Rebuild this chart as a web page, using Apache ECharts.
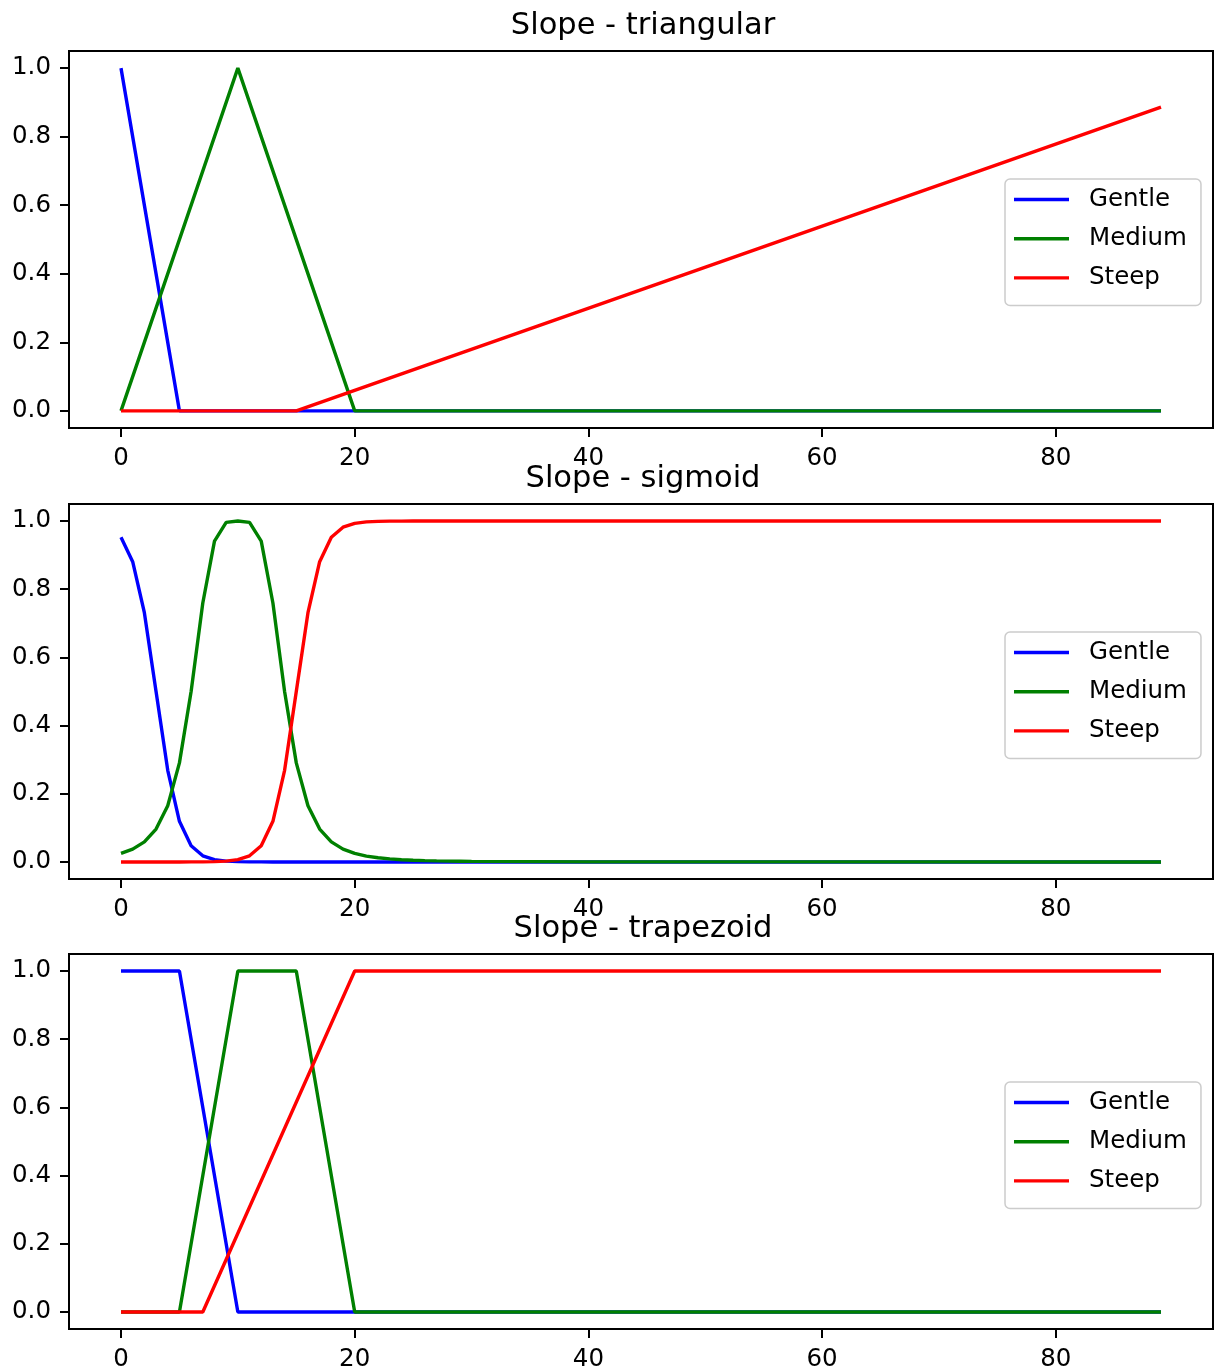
<!DOCTYPE html>
<html>
<head>
<meta charset="utf-8">
<script src="https://cdn.jsdelivr.net/npm/echarts@6/dist/echarts.min.js"></script>
<style>
html,body{margin:0;padding:0;background:#fff;}
#chart{width:1217px;height:1372px;}
</style>
</head>
<body>
<div id="chart"></div>
<script>
// ---- Data ----
var titles = ['Slope - triangular', 'Slope - sigmoid', 'Slope - trapezoid'];
var seriesNames = ['Gentle', 'Medium', 'Steep'];
var xTicks = [0, 20, 40, 60, 80];
var yTicks = [0, 0.2, 0.4, 0.6, 0.8, 1.0];

// Triangular panel (breakpoints)
var triGentleX = [0, 5, 89];
var triGentleY = [1, 0, 0];
var triMediumX = [0, 10, 20, 89];
var triMediumY = [0, 1, 0, 0];
var triSteepX = [0, 15, 89];
var triSteepY = [0, 0, 0.886];

// Sigmoid panel (sampled)
var sigX = [0,1,2,3,4,5,6,7,8,9,10,11,12,13,14,15,16,17,18,19,20,21,22,23,24,25,26,27,28,29,30,40,60,89];
var sigGentle = [0.9526,0.8808,0.7311,0.5,0.2689,0.1192,0.0474,0.018,0.0067,0.0025,0.0009,0.0003,0.0001,0,0,0,0,0,0,0,0,0,0,0,0,0,0,0,0,0,0,0,0,0];
var sigMedium = [0.025,0.0376,0.0588,0.0964,0.1649,0.2906,0.5,0.7596,0.9412,0.9961,1,0.9961,0.9412,0.7596,0.5,0.2906,0.1649,0.0964,0.0588,0.0376,0.025,0.0172,0.0122,0.0089,0.0066,0.005,0.0039,0.0031,0.0024,0.002,0.0016,0.0003,0.0001,0];
var sigSteep = [0,0,0,0,0,0,0.0001,0.0003,0.0009,0.0025,0.0067,0.018,0.0474,0.1192,0.2689,0.5,0.7311,0.8808,0.9526,0.982,0.9933,0.9975,0.9991,0.9997,0.9999,1,1,1,1,1,1,1,1,1];

// Trapezoid panel (breakpoints)
var trapGentleX = [0, 5, 10, 89];
var trapGentleY = [1, 1, 0, 0];
var trapMediumX = [0, 5, 10, 15, 20, 89];
var trapMediumY = [0, 0, 1, 1, 0, 0];
var trapSteepX = [0, 7, 20, 89];
var trapSteepY = [0, 0, 1, 1];

var colors = ['#0000ff', '#008000', '#ff0000'];

function zip(xs, ys) { return xs.map(function (x, i) { return [x, ys[i]]; }); }

var panels = [
  [zip(triGentleX, triGentleY), zip(triMediumX, triMediumY), zip(triSteepX, triSteepY)],
  [zip(sigX, sigGentle), zip(sigX, sigMedium), zip(sigX, sigSteep)],
  [zip(trapGentleX, trapGentleY), zip(trapMediumX, trapMediumY), zip(trapSteepX, trapSteepY)]
];

var gridTops = [51, 504, 954];
var gridHeights = [377, 375, 376];
var FONT = 'DejaVu Sans';

var option = {
  animation: false,
  backgroundColor: '#ffffff',
  title: [], grid: [], xAxis: [], yAxis: [], series: [], legend: []
};

for (var p = 0; p < 3; p++) {
  option.title.push({
    text: titles[p],
    left: 638, top: gridTops[p] - 45, textAlign: 'center',
    textStyle: { fontFamily: FONT, fontSize: 30.5, fontWeight: 'normal', color: '#000' }
  });
  option.grid.push({
    left: 69, right: 4, top: gridTops[p], height: gridHeights[p],
    show: true, borderColor: '#000', borderWidth: 2, backgroundColor: 'transparent'
  });
  option.xAxis.push({
    type: 'value', gridIndex: p, min: -4.45, max: 93.45, position: 'bottom',
    axisLine: { show: true, onZero: false, lineStyle: { color: '#000', width: 2 } },
    splitLine: { show: false },
    axisTick: { show: true, length: 9, customValues: xTicks, lineStyle: { color: '#000', width: 2 } },
    axisLabel: { customValues: xTicks, margin: 18, fontFamily: FONT, fontSize: 24.5, color: '#000',
      formatter: function (v) { return String(Math.round(v)); } }
  });
  option.yAxis.push({
    type: 'value', gridIndex: p, min: -0.05, max: 1.05, position: 'left',
    axisLine: { show: true, onZero: false, lineStyle: { color: '#000', width: 2 } },
    splitLine: { show: false },
    axisTick: { show: true, length: 9, customValues: yTicks, lineStyle: { color: '#000', width: 2 } },
    axisLabel: { customValues: yTicks, margin: 18, fontFamily: FONT, fontSize: 24.5, color: '#000',
      formatter: function (v) { return v.toFixed(1); } }
  });
  for (var s = 0; s < 3; s++) {
    option.series.push({
      type: 'line', name: seriesNames[s], xAxisIndex: p, yAxisIndex: p,
      data: panels[p][s], showSymbol: false, symbol: 'none',
      color: colors[s],
      lineStyle: { color: colors[s], width: 3.4 },
      z: 2 + s
    });
  }
  option.legend.push({
    data: seriesNames.slice(),
    orient: 'vertical',
    left: 1005, top: gridTops[p] + 128,
    icon: 'rect', itemWidth: 55, itemHeight: 3.4, itemGap: 14.2,
    padding: [8, 14, 15, 9],
    backgroundColor: 'rgba(255,255,255,0.8)',
    borderColor: '#cccccc', borderWidth: 1.5, borderRadius: 5,
    selectedMode: false,
    textStyle: { fontFamily: FONT, fontSize: 24.5, lineHeight: 24, color: '#000', padding: [0, 0, 0, 15] }
  });
}

var chart = echarts.init(document.getElementById('chart'), null, { renderer: 'canvas' });
chart.setOption(option);
</script>
</body>
</html>
